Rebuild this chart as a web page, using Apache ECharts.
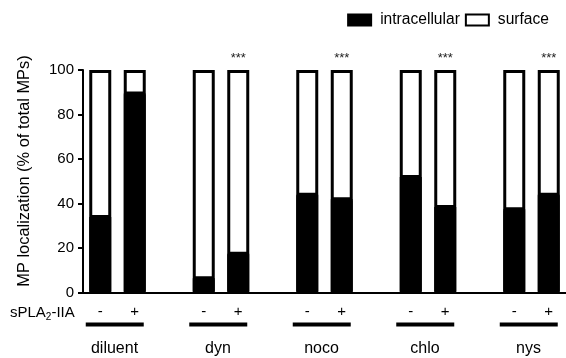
<!DOCTYPE html>
<html>
<head>
<meta charset="utf-8">
<script src="https://cdn.jsdelivr.net/npm/echarts/dist/echarts.min.js"></script>
<style>
  html, body { margin: 0; padding: 0; background: #fff; }
  #chart { width: 566px; height: 358px; }
</style>
</head>
<body>
<div id="chart"></div>
<script>
// data
const groups = ["diluent", "dyn", "noco", "chlo", "nys"];
const treatments = ["-", "+"];
const intracellular = [33.5, 89, 6, 17, 43.5, 41.5, 51.5, 38, 37, 43.5];
const surface = [66.5, 11, 94, 83, 56.5, 58.5, 48.5, 62, 63, 56.5];
const significance = ["", "", "", "***", "", "***", "", "***", "", "***"];
const yTicks = [0, 20, 40, 60, 80, 100];

const FONT = "'Liberation Sans', Arial, Helvetica, sans-serif";

// one slot per bar, plus an empty slot between groups
const categories = [];
const intraSlots = [];
const surfSlots = [];
const sigSlots = [];
groups.forEach((g, gi) => {
  treatments.forEach((t, ti) => {
    const k = gi * treatments.length + ti;
    categories.push(g + "|" + t);
    intraSlots.push(intracellular[k]);
    surfSlots.push(surface[k]);
    sigSlots.push(significance[k]);
  });
  if (gi < groups.length - 1) {
    categories.push("gap" + gi);
    intraSlots.push("-");
    surfSlots.push("-");
    sigSlots.push("");
  }
});

const chart = echarts.init(document.getElementById("chart"));

const option = {
  animation: false,
  textStyle: { fontFamily: FONT },
  legend: {
    right: 12,
    top: 7,
    itemWidth: 23,
    itemHeight: 11,
    itemGap: 5,
    icon: "rect",
    itemStyle: { borderWidth: 2, shadowBlur: 0, shadowOffsetY: 0, shadowColor: "transparent" },
    textStyle: { fontSize: 15.6, color: "#000", fontFamily: FONT, padding: [0, 0, 0, 4] },
    data: ["intracellular", "surface"]
  },
  grid: {
    left: 83,
    top: 70,
    width: 489,
    bottom: 65.5
  },
  xAxis: {
    type: "category",
    data: categories,
    axisLine: { lineStyle: { color: "#000", width: 2 } },
    axisTick: { show: false },
    axisLabel: {
      color: "#000",
      fontSize: 15,
      fontFamily: FONT,
      margin: 12,
      interval: 0,
      formatter: v => (v.indexOf("|") >= 0 ? v.split("|")[1] : "")
    }
  },
  yAxis: {
    type: "value",
    min: yTicks[0],
    max: yTicks[yTicks.length - 1],
    interval: 20,
    axisLine: { show: true, lineStyle: { color: "#000", width: 2 } },
    axisTick: { show: true, length: 5, lineStyle: { color: "#000", width: 2 } },
    axisLabel: { color: "#000", fontSize: 15, fontFamily: FONT, margin: 9 },
    splitLine: { show: false }
  },
  series: [
    {
      name: "intracellular",
      type: "bar",
      stack: "loc",
      barWidth: 22,
      z: 3,
      data: intraSlots,
      // the hard shadow covers the anti-aliasing seam where the two segments meet
      itemStyle: {
        color: "#000",
        borderColor: "#000",
        borderWidth: 3,
        shadowColor: "#000",
        shadowBlur: 0,
        shadowOffsetY: -1
      }
    },
    {
      name: "surface",
      type: "bar",
      stack: "loc",
      barWidth: 22,
      z: 2,
      data: surfSlots,
      itemStyle: { color: "#fff", borderColor: "#000", borderWidth: 3 },
      label: {
        show: true,
        position: "top",
        distance: 5,
        fontSize: 13,
        color: "#222",
        fontFamily: FONT,
        formatter: p => sigSlots[p.dataIndex]
      }
    }
  ]
};

chart.setOption(option);

// axis title, treatment row label, group underlines and group names
const graphics = [
  {
    type: "text",
    x: 24,
    y: 171,
    rotation: Math.PI / 2,
    style: {
      text: "MP localization (% of total MPs)",
      font: "16.4px " + FONT,
      fill: "#000",
      textAlign: "center",
      textVerticalAlign: "middle"
    }
  },
  {
    type: "text",
    left: 10,
    top: 305,
    style: {
      text: "sPLA{sub|2}-IIA",
      font: "15px " + FONT,
      fill: "#000",
      rich: {
        sub: { fontSize: 10, fontFamily: FONT, fill: "#000", padding: [9, 0, 0, 0] }
      }
    }
  }
];
groups.forEach(g => {
  const x1 = chart.convertToPixel({ xAxisIndex: 0 }, g + "|" + treatments[0]);
  const x2 = chart.convertToPixel({ xAxisIndex: 0 }, g + "|" + treatments[1]);
  graphics.push({
    type: "line",
    shape: { x1: x1 - 14.5, y1: 324.5, x2: x2 + 9, y2: 324.5 },
    style: { stroke: "#000", lineWidth: 4 }
  });
  graphics.push({
    type: "text",
    x: (x1 + x2) / 2 - 3,
    y: 349,
    style: {
      text: g,
      font: "16px " + FONT,
      fill: "#000",
      textAlign: "center",
      textVerticalAlign: "middle"
    }
  });
});
chart.setOption({ graphic: graphics });
</script>
</body>
</html>
